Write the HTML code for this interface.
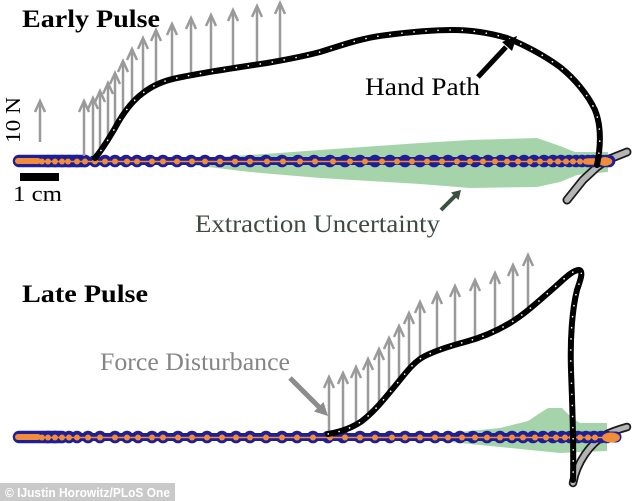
<!DOCTYPE html>
<html>
<head>
<meta charset="utf-8">
<style>
html,body{margin:0;padding:0;background:#fff;}
svg{display:block;}
</style>
</head>
<body>
<svg width="634" height="501" viewBox="0 0 634 501" xmlns="http://www.w3.org/2000/svg">
<rect x="0" y="0" width="634" height="501" fill="#fff"/>

<!-- ================= TOP PANEL ================= -->
<polygon fill="#a6d4aa" points="160,161 200,158 250,155 320,150 420,143 470,140 537,138 560,146 575,152 608,152 608,172 577,175 560,182 537,187 470,188 420,184 320,178 250,172 200,166 160,162"/>

<!-- grey end loop -->
<polyline points="567,200 583,180 597,167 607,160 627,152" fill="none" stroke="#1a1a1a" stroke-width="9" stroke-linecap="round" stroke-linejoin="round"/>
<polyline points="567,200 583,180 597,167 607,160 627,152" fill="none" stroke="#b4b4b4" stroke-width="5.5" stroke-linecap="round" stroke-linejoin="round"/>

<!-- baseline band -->
<line x1="18" y1="161" x2="609" y2="161" stroke="#1e1e96" stroke-width="8" stroke-linecap="round"/>
<line x1="19" y1="161" x2="85" y2="161" stroke="#1e1e96" stroke-width="12.5" stroke-linecap="round"/>
<g fill="#1e1e96">
<circle cx="48" cy="161" r="6.3"/><circle cx="55" cy="161" r="6.3"/><circle cx="62" cy="161" r="6.3"/><circle cx="69" cy="161" r="6.3"/><circle cx="77" cy="161" r="6.3"/><circle cx="85" cy="161" r="6.3"/><circle cx="95" cy="161" r="6.3"/><circle cx="105" cy="161" r="6.3"/><circle cx="115" cy="161" r="6.3"/><circle cx="126" cy="161" r="6.3"/><circle cx="137" cy="161" r="6.3"/><circle cx="150" cy="161" r="6.3"/><circle cx="163" cy="161" r="6.3"/><circle cx="177" cy="161" r="6.3"/><circle cx="191" cy="161" r="6.3"/><circle cx="205" cy="161" r="6.3"/><circle cx="220" cy="161" r="6.3"/><circle cx="235" cy="161" r="6.3"/><circle cx="250" cy="161" r="6.3"/><circle cx="266" cy="161" r="6.3"/><circle cx="282" cy="161" r="6.3"/><circle cx="298" cy="161" r="6.3"/><circle cx="314" cy="161" r="6.3"/><circle cx="330" cy="161" r="6.3"/><circle cx="345" cy="161" r="6.3"/><circle cx="360" cy="161" r="6.3"/><circle cx="375" cy="161" r="6.3"/><circle cx="390" cy="161" r="6.3"/><circle cx="405" cy="161" r="6.3"/><circle cx="420" cy="161" r="6.3"/><circle cx="434" cy="161" r="6.3"/><circle cx="448" cy="161" r="6.3"/><circle cx="462" cy="161" r="6.3"/><circle cx="475" cy="161" r="6.3"/><circle cx="488" cy="161" r="6.3"/><circle cx="501" cy="161" r="6.3"/><circle cx="513" cy="161" r="6.3"/><circle cx="524" cy="161" r="6.3"/><circle cx="534" cy="161" r="6.3"/><circle cx="544" cy="161" r="6.3"/><circle cx="553" cy="161" r="6.3"/><circle cx="561" cy="161" r="6.3"/><circle cx="569" cy="161" r="6.3"/><circle cx="576" cy="161" r="6.3"/><circle cx="582" cy="161" r="6.3"/><circle cx="588" cy="161" r="6.3"/><circle cx="593" cy="161" r="6.3"/><circle cx="598" cy="161" r="6.3"/><circle cx="602" cy="161" r="6.3"/><circle cx="606" cy="161" r="6.3"/><circle cx="609" cy="161" r="6.3"/>
</g>
<line x1="18" y1="161.5" x2="610" y2="161.5" stroke="#f28c38" stroke-width="1.4"/>
<line x1="18" y1="161" x2="38" y2="161" stroke="#f28c38" stroke-width="6" stroke-linecap="round"/>
<line x1="588" y1="161.5" x2="609" y2="161.5" stroke="#f28c38" stroke-width="6.5" stroke-linecap="round"/>
<g fill="#f28c38">
<circle cx="42" cy="161.5" r="3"/><circle cx="48" cy="161.5" r="3"/><circle cx="55" cy="161.5" r="3"/><circle cx="62" cy="161.5" r="3"/><circle cx="68" cy="161.5" r="3"/><circle cx="77" cy="161.5" r="3"/><circle cx="85" cy="161.5" r="3"/><circle cx="95" cy="161.5" r="3"/><circle cx="105" cy="161.5" r="3"/><circle cx="115" cy="161.5" r="3"/><circle cx="127" cy="161.5" r="3"/><circle cx="137" cy="161.5" r="3"/><circle cx="152" cy="161.5" r="3"/><circle cx="163" cy="161.5" r="3"/><circle cx="177" cy="161.5" r="3"/><circle cx="192" cy="161.5" r="3"/><circle cx="205" cy="161.5" r="3"/><circle cx="220" cy="161.5" r="3"/><circle cx="235" cy="161.5" r="3"/><circle cx="250" cy="161.5" r="3"/><circle cx="267" cy="161.5" r="3"/><circle cx="283" cy="161.5" r="3"/><circle cx="300" cy="161.5" r="3"/><circle cx="315" cy="161.5" r="3"/><circle cx="333" cy="161.5" r="3"/><circle cx="350" cy="161.5" r="3"/><circle cx="365" cy="161.5" r="3"/><circle cx="382" cy="161.5" r="3"/><circle cx="397" cy="161.5" r="3"/><circle cx="412" cy="161.5" r="3"/><circle cx="427" cy="161.5" r="3"/><circle cx="442" cy="161.5" r="3"/><circle cx="457" cy="161.5" r="3"/><circle cx="470" cy="161.5" r="3"/><circle cx="483" cy="161.5" r="3"/><circle cx="495" cy="161.5" r="3"/><circle cx="507" cy="161.5" r="3"/><circle cx="518" cy="161.5" r="3"/><circle cx="530" cy="161.5" r="3"/><circle cx="540" cy="161.5" r="3"/><circle cx="550" cy="161.5" r="3"/><circle cx="558" cy="161.5" r="3"/><circle cx="566" cy="161.5" r="3"/><circle cx="573" cy="161.5" r="3"/><circle cx="580" cy="161.5" r="3"/><circle cx="586" cy="161.5" r="3"/>
<ellipse cx="605" cy="161.5" rx="6.5" ry="4.5"/>
</g>

<!-- force arrows top -->
<g stroke="#9a9a9a" stroke-width="2.5" fill="none">
<line x1="40" y1="142" x2="40" y2="101"/><polyline points="35,112 40,101 45,112"/>
<line x1="84" y1="156" x2="84" y2="101"/><polyline points="79,112 84,101 89,112"/>
<line x1="93" y1="156" x2="93" y2="98"/><polyline points="88,109 93,98 98,109"/>
<line x1="100" y1="150" x2="100" y2="91"/><polyline points="95,102 100,91 105,102"/>
<line x1="108" y1="140" x2="108" y2="83"/><polyline points="103,94 108,83 113,94"/>
<line x1="115" y1="130" x2="115" y2="73"/><polyline points="110,84 115,73 120,84"/>
<line x1="123" y1="116" x2="123" y2="61"/><polyline points="118,72 123,61 128,72"/>
<line x1="132" y1="103" x2="132" y2="49"/><polyline points="127,60 132,49 137,60"/>
<line x1="143" y1="93" x2="143" y2="38"/><polyline points="138,49 143,38 148,49"/>
<line x1="156" y1="85" x2="156" y2="30"/><polyline points="151,41 156,30 161,41"/>
<line x1="172" y1="80" x2="172" y2="24"/><polyline points="167,35 172,24 177,35"/>
<line x1="191" y1="75" x2="191" y2="18"/><polyline points="186,29 191,18 196,29"/>
<line x1="211" y1="71" x2="211" y2="15"/><polyline points="206,26 211,15 216,26"/>
<line x1="233" y1="68" x2="233" y2="10"/><polyline points="228,21 233,10 238,21"/>
<line x1="257" y1="64" x2="257" y2="6"/><polyline points="252,17 257,6 262,17"/>
<line x1="280" y1="61" x2="280" y2="3"/><polyline points="275,14 280,3 285,14"/>
</g>

<!-- hand path top -->
<path d="M95,158 C102,150 108,140 115,128 C122,115 132,101 143,93 C152,86 162,81 177,78 C200,73 233,68 267,63 C290,59 305,56 320,52 C340,46 360,38 387,35 C410,32 430,30 453,30 C470,30 490,33 507,38 C525,45 545,56 560,67 C575,79 588,95 595,110 C601,125 601,145 597,165" fill="none" stroke="#000" stroke-width="6" stroke-linecap="round" stroke-linejoin="round"/>
<path d="M95,158 C102,150 108,140 115,128 C122,115 132,101 143,93 C152,86 162,81 177,78 C200,73 233,68 267,63 C290,59 305,56 320,52 C340,46 360,38 387,35 C410,32 430,30 453,30 C470,30 490,33 507,38 C525,45 545,56 560,67 C575,79 588,95 595,110 C601,125 601,145 597,165" fill="none" stroke="#fff" stroke-width="1.6" stroke-linecap="round" stroke-dasharray="0.1 12" stroke-dashoffset="-300"/>

<!-- texts top -->
<text x="22" y="27" font-family="Liberation Serif, serif" font-weight="bold" font-size="25" textLength="138" lengthAdjust="spacingAndGlyphs" fill="#000">Early Pulse</text>
<text transform="translate(20,143) rotate(-90)" x="0" y="0" font-family="Liberation Serif, serif" font-size="21" textLength="46" lengthAdjust="spacingAndGlyphs" fill="#000">10 N</text>
<rect x="20" y="173" width="39" height="8" fill="#000"/>
<text x="13" y="201" font-family="Liberation Serif, serif" font-size="22" textLength="49" lengthAdjust="spacingAndGlyphs" fill="#000">1 cm</text>
<text x="365" y="95" font-family="Liberation Serif, serif" font-size="25" textLength="115" lengthAdjust="spacingAndGlyphs" fill="#000">Hand Path</text>
<text x="195" y="232" font-family="Liberation Serif, serif" font-size="25" textLength="245" lengthAdjust="spacingAndGlyphs" fill="#3d4a40">Extraction Uncertainty</text>

<!-- hand path arrow -->
<line x1="478" y1="77" x2="506" y2="47" stroke="#000" stroke-width="5"/>
<polygon points="517,36 512,51 502,42" fill="#000"/>
<!-- extraction arrow -->
<line x1="441" y1="210" x2="456" y2="195" stroke="#3a5040" stroke-width="4"/>
<polygon points="461,190 458.5,200 451,192.5" fill="#3a5040"/>

<!-- ================= BOTTOM PANEL ================= -->
<polygon fill="#a6d4aa" points="413,437 450,433 500,428 528,421 540,413 548,408 562,408 572,418 580,423 607,423 607,451 580,452 560,453 530,450 500,447 450,442 413,438"/>

<path d="M573,483 C577,462 590,444 605,435 C613,431 620,429 627,427" fill="none" stroke="#1a1a1a" stroke-width="8.5" stroke-linecap="round"/>
<path d="M573,483 C577,462 590,444 605,435 C613,431 620,429 627,427" fill="none" stroke="#b4b4b4" stroke-width="5" stroke-linecap="round"/>

<line x1="18" y1="437" x2="612" y2="437" stroke="#1e1e96" stroke-width="8" stroke-linecap="round"/>
<line x1="19" y1="437" x2="60" y2="437" stroke="#1e1e96" stroke-width="12.5" stroke-linecap="round"/>
<line x1="570" y1="437" x2="616" y2="437" stroke="#1e1e96" stroke-width="11" stroke-linecap="round"/>
<g fill="#1e1e96">
<circle cx="48" cy="437" r="6.3"/><circle cx="55" cy="437" r="6.3"/><circle cx="62" cy="437" r="6.3"/><circle cx="69" cy="437" r="6.3"/><circle cx="77" cy="437" r="6.3"/><circle cx="88" cy="437" r="6.3"/><circle cx="100" cy="437" r="6.3"/><circle cx="115" cy="437" r="6.3"/><circle cx="127" cy="437" r="6.3"/><circle cx="138" cy="437" r="6.3"/><circle cx="152" cy="437" r="6.3"/><circle cx="163" cy="437" r="6.3"/><circle cx="178" cy="437" r="6.3"/><circle cx="192" cy="437" r="6.3"/><circle cx="207" cy="437" r="6.3"/><circle cx="222" cy="437" r="6.3"/><circle cx="236" cy="437" r="6.3"/><circle cx="250" cy="437" r="6.3"/><circle cx="266" cy="437" r="6.3"/><circle cx="282" cy="437" r="6.3"/><circle cx="297" cy="437" r="6.3"/><circle cx="313" cy="437" r="6.3"/><circle cx="328" cy="437" r="6.3"/><circle cx="343" cy="437" r="6.3"/><circle cx="360" cy="437" r="6.3"/><circle cx="375" cy="437" r="6.3"/><circle cx="390" cy="437" r="6.3"/><circle cx="405" cy="437" r="6.3"/><circle cx="420" cy="437" r="6.3"/><circle cx="435" cy="437" r="6.3"/><circle cx="448" cy="437" r="6.3"/><circle cx="460" cy="437" r="6.3"/><circle cx="473" cy="437" r="6.3"/><circle cx="487" cy="437" r="6.3"/><circle cx="500" cy="437" r="6.3"/><circle cx="512" cy="437" r="6.3"/><circle cx="523" cy="437" r="6.3"/><circle cx="533" cy="437" r="6.3"/><circle cx="543" cy="437" r="6.3"/><circle cx="553" cy="437" r="6.3"/><circle cx="562" cy="437" r="6.3"/><circle cx="570" cy="437" r="6.3"/><circle cx="578" cy="437" r="6.3"/><circle cx="586" cy="437" r="6.3"/><circle cx="594" cy="437" r="6.3"/><circle cx="601" cy="437" r="6.3"/><circle cx="607" cy="437" r="6.3"/>
</g>
<line x1="18" y1="437.5" x2="612" y2="437.5" stroke="#f28c38" stroke-width="1.4"/>
<line x1="18" y1="437" x2="38" y2="437" stroke="#f28c38" stroke-width="6" stroke-linecap="round"/>
<g fill="#f28c38">
<circle cx="42" cy="437.5" r="3"/><circle cx="48" cy="437.5" r="3"/><circle cx="55" cy="437.5" r="3"/><circle cx="62" cy="437.5" r="3"/><circle cx="69" cy="437.5" r="3"/><circle cx="77" cy="437.5" r="3"/><circle cx="88" cy="437.5" r="3"/><circle cx="100" cy="437.5" r="3"/><circle cx="115" cy="437.5" r="3"/><circle cx="127" cy="437.5" r="3"/><circle cx="138" cy="437.5" r="3"/><circle cx="152" cy="437.5" r="3"/><circle cx="163" cy="437.5" r="3"/><circle cx="178" cy="437.5" r="3"/><circle cx="192" cy="437.5" r="3"/><circle cx="207" cy="437.5" r="3"/><circle cx="222" cy="437.5" r="3"/><circle cx="236" cy="437.5" r="3"/><circle cx="250" cy="437.5" r="3"/><circle cx="266" cy="437.5" r="3"/><circle cx="282" cy="437.5" r="3"/><circle cx="297" cy="437.5" r="3"/><circle cx="313" cy="437.5" r="3"/><circle cx="330" cy="437.5" r="3"/><circle cx="345" cy="437.5" r="3"/><circle cx="360" cy="437.5" r="3"/><circle cx="375" cy="437.5" r="3"/><circle cx="392" cy="437.5" r="3"/><circle cx="405" cy="437.5" r="3"/><circle cx="420" cy="437.5" r="3"/><circle cx="435" cy="437.5" r="3"/><circle cx="448" cy="437.5" r="3"/><circle cx="462" cy="437.5" r="3"/><circle cx="475" cy="437.5" r="3"/><circle cx="487" cy="437.5" r="3"/><circle cx="500" cy="437.5" r="3"/><circle cx="512" cy="437.5" r="3"/><circle cx="523" cy="437.5" r="3"/><circle cx="535" cy="437.5" r="3"/><circle cx="546" cy="437.5" r="3"/><circle cx="556" cy="437.5" r="3"/><circle cx="565" cy="437.5" r="3"/><circle cx="572" cy="437.5" r="3"/><circle cx="580" cy="437.5" r="3"/><circle cx="588" cy="437.5" r="3"/><circle cx="595" cy="437.5" r="3"/>
<ellipse cx="611" cy="437.5" rx="9" ry="5"/>
</g>

<!-- force arrows bottom -->
<g stroke="#9a9a9a" stroke-width="2.5" fill="none">
<line x1="329" y1="434" x2="329" y2="377"/><polyline points="324,388 329,377 334,388"/>
<line x1="343" y1="431" x2="343" y2="373"/><polyline points="338,384 343,373 348,384"/>
<line x1="356" y1="424" x2="356" y2="367"/><polyline points="351,378 356,367 361,378"/>
<line x1="368" y1="417" x2="368" y2="359"/><polyline points="363,370 368,359 373,370"/>
<line x1="379" y1="407" x2="379" y2="349"/><polyline points="374,360 379,349 384,360"/>
<line x1="389" y1="395" x2="389" y2="338"/><polyline points="384,349 389,338 394,349"/>
<line x1="399" y1="382" x2="399" y2="326"/><polyline points="394,337 399,326 404,337"/>
<line x1="409" y1="370" x2="409" y2="313"/><polyline points="404,324 409,313 414,324"/>
<line x1="420" y1="360" x2="420" y2="302"/><polyline points="415,313 420,302 425,313"/>
<line x1="437" y1="350" x2="437" y2="293"/><polyline points="432,304 437,293 442,304"/>
<line x1="455" y1="345" x2="455" y2="286"/><polyline points="450,297 455,286 460,297"/>
<line x1="475" y1="339" x2="475" y2="280"/><polyline points="470,291 475,280 480,291"/>
<line x1="495" y1="330" x2="495" y2="273"/><polyline points="490,284 495,273 500,284"/>
<line x1="513" y1="322" x2="513" y2="265"/><polyline points="508,276 513,265 518,276"/>
<line x1="528" y1="311" x2="528" y2="255"/><polyline points="523,266 528,255 533,266"/>
</g>

<!-- hand path bottom -->
<path d="M328,434 C340,432 352,428 362,421 C375,411 385,398 395,386 C405,374 413,362 425,356 C437,350 450,346 465,342 C480,338 495,332 510,323 C525,314 540,300 555,287 C565,278 573,270 579,270 C584,271 580,281 577,290 C572,310 570,340 571,370 C572,400 574,440 573,480" fill="none" stroke="#000" stroke-width="6" stroke-linecap="round" stroke-linejoin="round"/>
<path d="M328,434 C340,432 352,428 362,421 C375,411 385,398 395,386 C405,374 413,362 425,356 C437,350 450,346 465,342 C480,338 495,332 510,323 C525,314 540,300 555,287 C565,278 573,270 579,270 C584,271 580,281 577,290 C572,310 570,340 571,370 C572,400 574,440 573,480" fill="none" stroke="#fff" stroke-width="1.6" stroke-linecap="round" stroke-dasharray="0.1 11" stroke-dashoffset="-200"/>

<text x="22" y="302" font-family="Liberation Serif, serif" font-weight="bold" font-size="25" textLength="126" lengthAdjust="spacingAndGlyphs" fill="#000">Late Pulse</text>
<text x="100" y="370" font-family="Liberation Serif, serif" font-size="25" textLength="190" lengthAdjust="spacingAndGlyphs" fill="#858585">Force Disturbance</text>

<line x1="290" y1="378" x2="319" y2="407" stroke="#8c8c8c" stroke-width="5"/>
<polygon points="328,416 323.5,402 314,411.5" fill="#8c8c8c"/>

<rect x="0" y="483" width="175" height="18" fill="#c9c9c9"/>
<text x="5" y="497" font-family="Liberation Sans, sans-serif" font-weight="bold" font-size="13" textLength="165" lengthAdjust="spacingAndGlyphs" fill="#fff">© IJustin Horowitz/PLoS One</text>
</svg>
</body>
</html>
